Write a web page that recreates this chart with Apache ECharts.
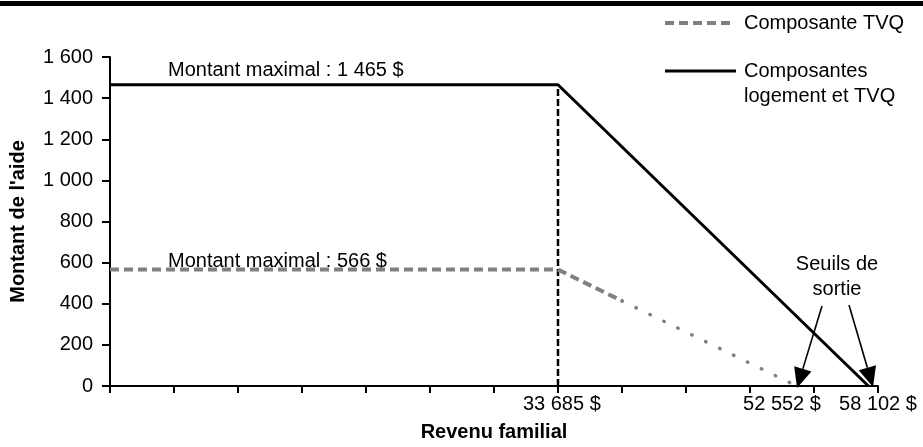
<!DOCTYPE html>
<html>
<head>
<meta charset="utf-8">
<script src="https://cdn.jsdelivr.net/npm/echarts@6/dist/echarts.min.js"></script>
<style>html,body{margin:0;padding:0;background:#fff}#c{width:923px;height:447px}</style>
</head>
<body>
<div id="c"></div>
<script>
// ---- data (x in axis tick units, as drawn in the original chart) ----
const xTickCount = 12;
const xLabelPositions = [7.06, 10.5, 12];
const xLabelTexts = ['33 685 $', '52 552 $', '58 102 $'];
const yMin = 0, yMax = 1600, yStep = 200;
const seriesNames = ['Composante TVQ', 'Composantes logement et TVQ'];
const housingTvq = [[0, 1465], [7, 1465], [11.85, 0]];
const tvqDashed = [[0, 566], [7, 566], [8, 414]];
const tvqDotted = [[8, 414], [10.65, 12]];
const thresholdLine = [[7, 0], [7, 1465]];
const maxLabel1465 = 'Montant maximal : 1 465 $';
const maxLabel566 = 'Montant maximal : 566 $';
const exitLabel = ['Seuils de', 'sortie'];
const xTitle = 'Revenu familial';
const yTitle = "Montant de l'aide";

const FONT = 'Liberation Sans, Arial, sans-serif';
const GRAY = '#808080';

function fmtY(v) {
  if (v >= 1000) return Math.floor(v / 1000) + ' ' + String(v % 1000).padStart(3, '0');
  return String(v);
}
const tickVals = [];
for (let i = 0; i <= xTickCount; i++) tickVals.push(i);

function arrow(x1, y1, x2, y2) {
  const dx = x2 - x1, dy = y2 - y1, L = Math.hypot(dx, dy);
  const ux = dx / L, uy = dy / L, hl = 20, hw = 9;
  const bx = x2 - ux * hl, by = y2 - uy * hl;
  return [
    { type: 'line', shape: { x1: x1, y1: y1, x2: bx, y2: by }, style: { stroke: '#000', lineWidth: 1.6 } },
    { type: 'polygon', shape: { points: [[x2, y2], [bx - uy * hw, by + ux * hw], [bx + uy * hw, by - ux * hw]] }, style: { fill: '#000' } }
  ];
}

const txt = (text, x, y, align, bold) => ({
  type: 'text', style: { text: text, x: x, y: y, textAlign: align || 'left', textVerticalAlign: 'middle',
    font: (bold ? 'bold ' : '') + '20px ' + FONT, fill: '#000' }
});

const chart = echarts.init(document.getElementById('c'), null, { renderer: 'canvas' });
chart.setOption({
  animation: false,
  backgroundColor: '#fff',
  grid: { left: 108, right: 45, top: 57, bottom: 55, containLabel: false },
  xAxis: {
    type: 'value', min: 0, max: xTickCount, interval: 1,
    name: xTitle, nameLocation: 'middle', nameGap: 36,
    nameTextStyle: { fontFamily: FONT, fontSize: 20, fontWeight: 'bold', color: '#000' },
    axisLine: { show: true, lineStyle: { color: '#000', width: 2 } },
    axisTick: { show: true, length: 7, lineStyle: { color: '#000', width: 2 }, customValues: tickVals },
    axisLabel: {
      customValues: xLabelPositions, margin: 8, fontFamily: FONT, fontSize: 20, color: '#000',
      formatter: v => { const i = xLabelPositions.findIndex(p => Math.abs(p - v) < 1e-6); return i >= 0 ? xLabelTexts[i] : ''; }
    },
    splitLine: { show: false }
  },
  yAxis: {
    type: 'value', min: yMin, max: yMax, interval: yStep,
    name: yTitle, nameLocation: 'middle', nameGap: 82, nameRotate: 90,
    nameTextStyle: { fontFamily: FONT, fontSize: 20, fontWeight: 'bold', color: '#000' },
    axisLine: { show: true, lineStyle: { color: '#000', width: 2 } },
    axisTick: { show: true, length: 8, lineStyle: { color: '#000', width: 2 } },
    axisLabel: { margin: 17, fontFamily: FONT, fontSize: 20, color: '#000', formatter: fmtY },
    splitLine: { show: false }
  },
  series: [
    { name: 'seuil', type: 'line', data: thresholdLine, symbol: 'none', silent: true,
      lineStyle: { color: '#000', width: 2.5, type: [7, 3] }, z: 1 },
    { name: seriesNames[1], type: 'line', data: housingTvq, symbol: 'none',
      lineStyle: { color: '#000', width: 3 }, z: 3 },
    { name: seriesNames[0], type: 'line', data: tvqDashed, symbol: 'none',
      lineStyle: { color: GRAY, width: 4, type: [9, 5] }, z: 2 },
    { name: seriesNames[0] + ' (suite)', type: 'line', data: tvqDotted, symbol: 'none',
      lineStyle: { color: GRAY, width: 3.5, type: [0.5, 15], cap: 'round' }, z: 2 }
  ],
  graphic: [
    { type: 'rect', shape: { x: 0, y: 1, width: 923, height: 5 }, style: { fill: '#000' } },
    { type: 'line', shape: { x1: 665, y1: 23, x2: 735, y2: 23 }, style: { stroke: GRAY, lineWidth: 4, lineDash: [9, 5] } },
    txt('Composante TVQ', 744, 23),
    { type: 'line', shape: { x1: 665, y1: 71, x2: 736, y2: 71 }, style: { stroke: '#000', lineWidth: 3 } },
    txt('Composantes', 744, 71),
    txt('logement et TVQ', 744, 96),
    txt(maxLabel1465, 168, 70),
    txt(maxLabel566, 168, 261),
    txt(exitLabel[0], 837, 264, 'center'),
    txt(exitLabel[1], 837, 289, 'center'),
    ...arrow(822, 306, 797, 388),
    ...arrow(849, 305, 873, 387)
  ]
});
</script>
</body>
</html>
